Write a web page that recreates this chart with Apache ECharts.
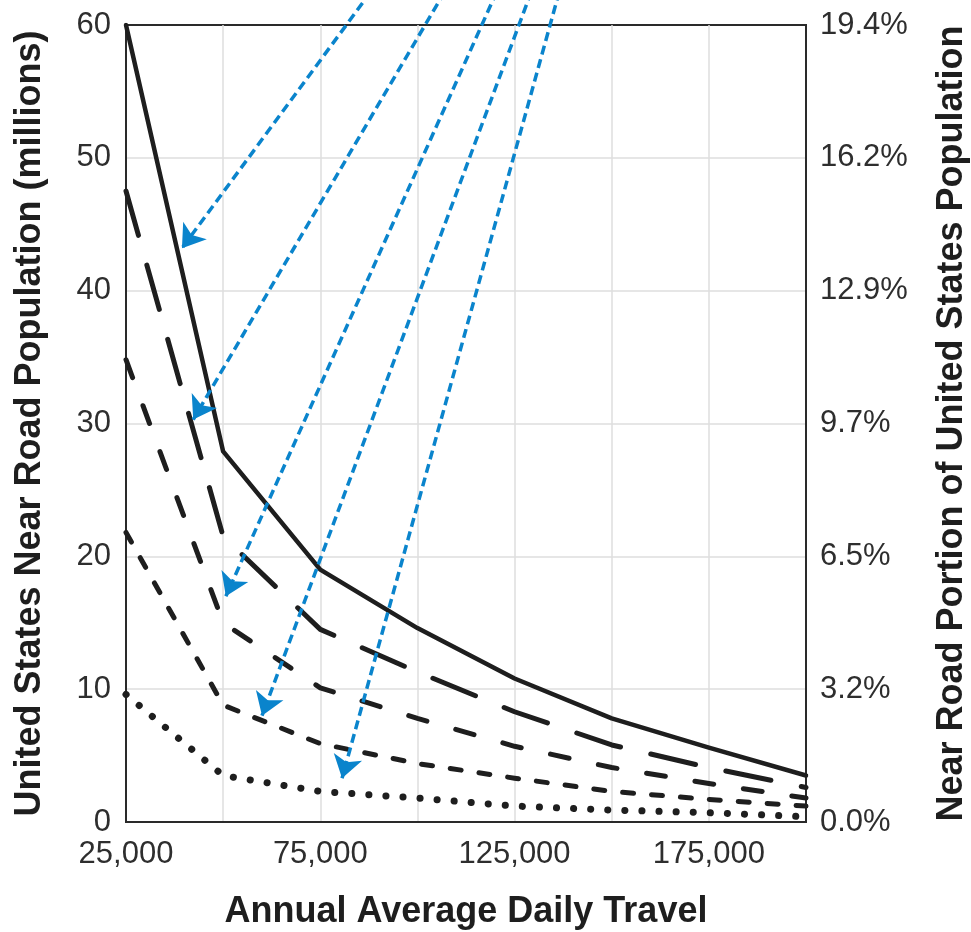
<!DOCTYPE html>
<html>
<head>
<meta charset="utf-8">
<script src="https://cdn.jsdelivr.net/npm/echarts@6/dist/echarts.min.js"></script>
<style>
  html, body { margin: 0; padding: 0; background: #fff; }
  #chart { width: 971px; height: 932px; }
</style>
</head>
<body>
<div id="chart"></div>
<script>
// annual average daily travel (x axis)
const aadt = [25000, 50000, 75000, 100000, 125000, 150000, 175000, 200000];

// near road population, millions
const solidLine = [60, 27.9, 19.0, 14.6, 10.8, 7.8, 5.6, 3.5];
const longDashLine = [47.5, 21.5, 14.5, 11.3, 8.3, 5.8, 4.1, 2.6];
const mediumDashLine = [34.8, 15.0, 10.1, 7.8, 5.7, 4.1, 2.9, 1.8];
const shortDashLine = [21.8, 8.8, 5.9, 4.4, 3.3, 2.3, 1.7, 1.2];
const dottedLine = [9.6, 3.5, 2.3, 1.8, 1.2, 0.9, 0.7, 0.4];

const xTickValues = [25000, 75000, 125000, 175000];
const xTickLabels = ['25,000', '75,000', '125,000', '175,000'];
const rightTickLabels = ['0.0%', '3.2%', '6.5%', '9.7%', '12.9%', '16.2%', '19.4%'];

// blue call-out arrows: start (above the plot) and tip, in data units
const arrowStarts = [[88000, 62.5], [107000, 62.5], [120400, 62.5], [129300, 62.5], [136500, 62.5]];
const arrowTips = [[39400, 43.2], [42300, 30.3], [50700, 17.0], [60000, 8.0], [80600, 3.3]];

const FONT = '"Liberation Sans", Arial, sans-serif';
const INK = '#1e1e1e';

function pairs(ys) {
  return aadt.map((x, i) => [x, ys[i]]);
}

function lineSeries(name, ys, dash, width) {
  return {
    name: name,
    type: 'line',
    data: pairs(ys),
    symbol: 'none',
    silent: true,
    z: 3,
    lineStyle: {
      color: INK,
      width: width,
      type: dash,
      cap: 'round',
      join: 'round'
    }
  };
}

const chart = echarts.init(document.getElementById('chart'), null, { renderer: 'canvas' });

const gridLine = { show: true, showMinLine: false, showMaxLine: false, lineStyle: { color: '#dedede', width: 1.5 } };

const option = {
  animation: false,
  backgroundColor: '#fff',
  textStyle: { fontFamily: FONT },
  grid: {
    left: 126,
    right: 165,
    top: 25,
    bottom: 110,
    outerBoundsMode: 'none',
    containLabel: false,
    show: true,
    borderColor: '#2a2a2a',
    borderWidth: 2,
    backgroundColor: 'transparent'
  },
  xAxis: {
    type: 'value',
    min: 25000,
    max: 200000,
    interval: 25000,
    name: 'Annual Average Daily Travel',
    nameLocation: 'middle',
    nameGap: 72,
    nameTextStyle: { fontFamily: FONT, fontSize: 36, fontWeight: 'bold', color: '#1e1e1e' },
    axisLine: { show: true, lineStyle: { color: '#2a2a2a', width: 2 } },
    axisTick: { show: false },
    axisLabel: {
      fontFamily: FONT,
      fontSize: 31,
      color: '#2e2e2e',
      margin: 17,
      formatter: function (v) {
        const i = xTickValues.indexOf(v);
        return i >= 0 ? xTickLabels[i] : '';
      }
    },
    splitLine: gridLine
  },
  yAxis: [
    {
      type: 'value',
      min: 0,
      max: 60,
      interval: 10,
      position: 'left',
      name: 'United States Near Road Population (millions)',
      nameLocation: 'middle',
      nameRotate: 90,
      nameGap: 78,
      nameTextStyle: { fontFamily: FONT, fontSize: 36, fontWeight: 'bold', color: '#1e1e1e' },
      axisLine: { show: true, lineStyle: { color: '#2a2a2a', width: 2 } },
      axisTick: { show: false },
      axisLabel: { fontFamily: FONT, fontSize: 31, color: '#2e2e2e', margin: 15 },
      splitLine: gridLine
    },
    {
      type: 'value',
      min: 0,
      max: 60,
      interval: 10,
      position: 'right',
      name: 'Near Road Portion of United States Population',
      nameLocation: 'middle',
      nameRotate: 90,
      nameGap: 128,
      nameTextStyle: { fontFamily: FONT, fontSize: 36, fontWeight: 'bold', color: '#1e1e1e' },
      axisLine: { show: true, lineStyle: { color: '#2a2a2a', width: 2 } },
      axisTick: { show: false },
      axisLabel: {
        fontFamily: FONT,
        fontSize: 31,
        color: '#2e2e2e',
        margin: 14,
        formatter: function (v) {
          return rightTickLabels[Math.round(v / 10)];
        }
      },
      splitLine: { show: false }
    }
  ],
  series: [
    lineSeries('solid', solidLine, 'solid', 4.5),
    lineSeries('long dash', longDashLine, [46, 31], 5),
    lineSeries('medium dash', mediumDashLine, [19, 30], 5),
    lineSeries('short dash', shortDashLine, [11, 18], 5),
    lineSeries('dotted', dottedLine, [0.1, 17], 7),
    {
      name: 'arrows',
      type: 'lines',
      coordinateSystem: 'cartesian2d',
      clip: false,
      silent: true,
      z: 5,
      symbol: ['none', 'arrow'],
      symbolSize: 22,
      lineStyle: { color: '#0a84cc', width: 3.5, type: [9, 5], opacity: 1, curveness: 0 },
      data: arrowStarts.map((s, i) => ({ coords: [s, arrowTips[i]] }))
    }
  ]
};

chart.setOption(option);
</script>
</body>
</html>
